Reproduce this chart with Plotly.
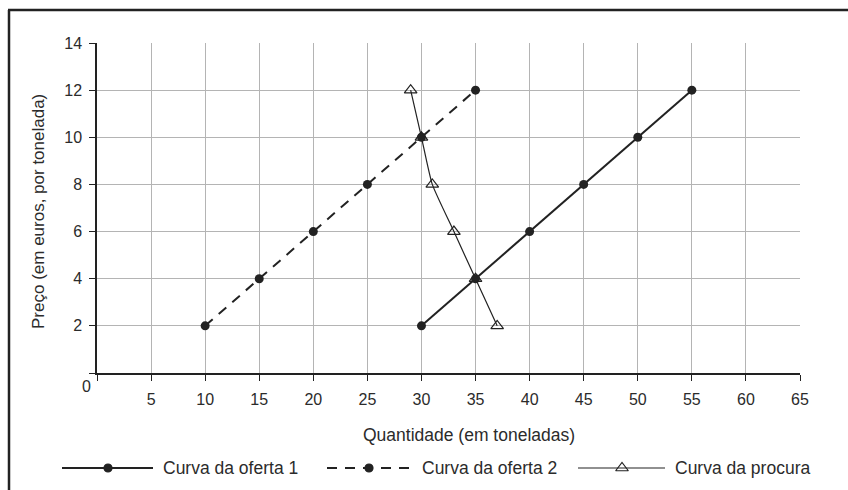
import plotly.graph_objects as go

# Data
oferta1_x = [30, 35, 40, 45, 50, 55]
oferta1_y = [2, 4, 6, 8, 10, 12]
oferta2_x = [10, 15, 20, 25, 30, 35]
oferta2_y = [2, 4, 6, 8, 10, 12]
procura_x = [29, 30, 31, 33, 35, 37]
procura_y = [12, 10, 8, 6, 4, 2]
x_ticks = [0, 5, 10, 15, 20, 25, 30, 35, 40, 45, 50, 55, 60, 65]
x_ticktext = ["", "5", "10", "15", "20", "25", "30", "35", "40", "45", "50", "55", "60", "65"]
y_ticks = [0, 2, 4, 6, 8, 10, 12, 14]
y_ticktext = ["", "2", "4", "6", "8", "10", "12", "14"]
legend_names = ["Curva da oferta 1", "Curva da oferta 2", "Curva da procura"]

W, H = 848, 490
L, R, T, B = 97, 800, 43, 373
FONT = "Liberation Sans, Arial, sans-serif"
INK = "#222222"
TXT = "#2b2b2b"

fig = go.Figure()

fig.add_trace(go.Scatter(x=procura_x, y=procura_y, mode="lines+markers",
                         line=dict(color=INK, width=1.2, shape="spline", smoothing=0.5),
                         marker=dict(symbol="triangle-up-open", size=11, color=INK, line=dict(width=1.2)),
                         showlegend=False, xaxis="x", yaxis="y"))
fig.add_trace(go.Scatter(x=oferta2_x, y=oferta2_y, mode="lines+markers",
                         line=dict(color=INK, width=2, dash="10px,8px"),
                         marker=dict(symbol="circle", size=9, color=INK),
                         showlegend=False, xaxis="x", yaxis="y"))
fig.add_trace(go.Scatter(x=oferta1_x, y=oferta1_y, mode="lines+markers",
                         line=dict(color=INK, width=2),
                         marker=dict(symbol="circle", size=9, color=INK),
                         showlegend=False, xaxis="x", yaxis="y"))

# Legend drawn on an overlay pixel axis
leg_y = 468
leg_items = [
    dict(x0=62, x1=153, xm=108, tx=161, dash="solid", w=2, sym="circle", size=8),
    dict(x0=327, x1=412, xm=369, tx=420, dash="10px,8px", w=2, sym="circle", size=8),
    dict(x0=578, x1=665, xm=622, tx=673, dash="solid", w=1.2, sym="triangle-up-open", size=11),
]
for item, name in zip(leg_items, legend_names):
    fig.add_trace(go.Scatter(x=[item["x0"], item["x1"]], y=[leg_y, leg_y], mode="lines",
                             line=dict(color=INK, width=item["w"], dash=item["dash"]),
                             showlegend=False, xaxis="x2", yaxis="y2", hoverinfo="skip"))
    fig.add_trace(go.Scatter(x=[item["xm"]], y=[leg_y], mode="markers",
                             marker=dict(symbol=item["sym"], size=item["size"], color=INK,
                                         line=dict(width=1.2, color=INK)),
                             showlegend=False, xaxis="x2", yaxis="y2", hoverinfo="skip"))
    fig.add_annotation(x=item["tx"], y=leg_y, xref="x2", yref="y2", text=name,
                       showarrow=False, xanchor="left", yanchor="middle",
                       font=dict(family=FONT, size=17.5, color=TXT))

# Corner "0" label and axis titles
fig.add_annotation(x=86, y=386, xref="x2", yref="y2", text="0", showarrow=False,
                   xanchor="center", yanchor="middle", font=dict(family=FONT, size=16, color=TXT))
fig.add_annotation(x=469, y=435, xref="x2", yref="y2", text="Quantidade (em toneladas)",
                   showarrow=False, xanchor="center", yanchor="middle",
                   font=dict(family=FONT, size=17.5, color=TXT))
fig.add_annotation(x=38, y=212, xref="x2", yref="y2", text="Preço (em euros, por tonelada)",
                   showarrow=False, textangle=-90, xanchor="center", yanchor="middle",
                   font=dict(family=FONT, size=17, color=TXT))

# Frame (left and top edges)
fig.add_shape(type="line", xref="x2", yref="y2", x0=9, x1=9, y0=10, y1=490,
              line=dict(color="#222222", width=2.5))
fig.add_shape(type="line", xref="x2", yref="y2", x0=8, x1=848, y0=10, y1=10,
              line=dict(color="#222222", width=2.5))

axis_common = dict(showgrid=True, gridcolor="#b4b4b4", gridwidth=1.2,
                   ticks="outside", ticklen=6, tickcolor=INK, tickwidth=1.2,
                   showline=True, linecolor=INK, linewidth=1.5, zeroline=False,
                   tickfont=dict(family=FONT, size=16, color=TXT), automargin=False)

fig.update_layout(
    template="none",
    width=W, height=H, autosize=False,
    margin=dict(l=0, r=0, t=0, b=0, pad=0),
    paper_bgcolor="white", plot_bgcolor="rgba(0,0,0,0)",
    showlegend=False,
    font=dict(family=FONT, color=TXT),
    xaxis=dict(domain=[L / W, R / W], range=[0, 65], tickvals=x_ticks, ticktext=x_ticktext,
               ticklabelstandoff=5, anchor="y", **axis_common),
    yaxis=dict(domain=[1 - B / H, 1 - T / H], range=[0, 14], tickvals=y_ticks, ticktext=y_ticktext,
               ticklabelstandoff=4, anchor="x", **axis_common),
    xaxis2=dict(domain=[0, 1], range=[0, W], visible=False, anchor="y2", fixedrange=True, automargin=False),
    yaxis2=dict(domain=[0, 1], range=[H, 0], visible=False, anchor="x2", fixedrange=True, automargin=False),
)

fig.write_html("out.html", config={"displayModeBar": False},
               post_script="document.body.style.margin='0';document.body.style.overflow='hidden';")
